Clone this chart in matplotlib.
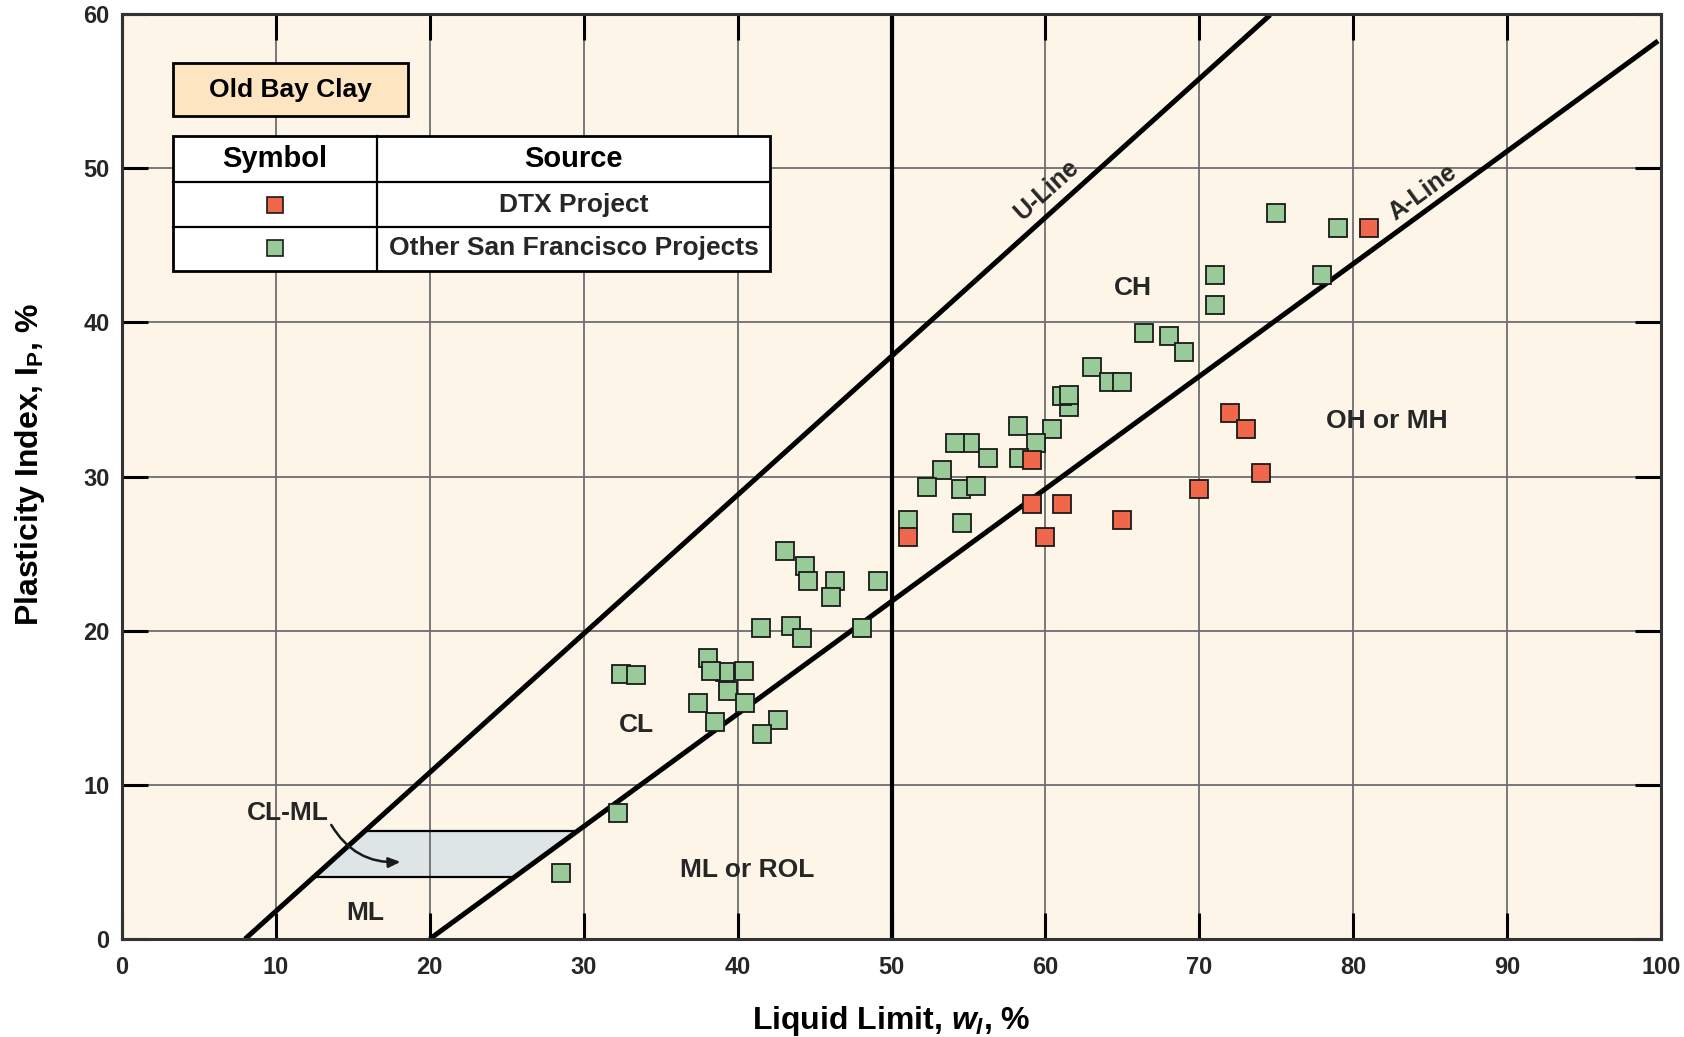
"""Plasticity chart for Old Bay Clay, DTX vs other San Francisco projects."""

import numpy as np
import matplotlib
matplotlib.use("Agg")
import matplotlib.pyplot as plt
from matplotlib.patches import Rectangle, Polygon

plt.rcParams['font.family'] = ['Liberation Sans', 'DejaVu Sans']
plt.rcParams['font.weight'] = 'bold'
plt.rcParams['mathtext.fontset'] = 'custom'
plt.rcParams['mathtext.rm'] = 'Liberation Sans:bold'
plt.rcParams['mathtext.bf'] = 'Liberation Sans:bold'
plt.rcParams['mathtext.it'] = 'Liberation Sans:bold:italic'

# other San Francisco projects (green)
other_ll = [61.5, 75.0, 79.0, 78.0, 71.0, 71.0, 66.4, 68.0, 69.0, 63.0, 64.1, 65.0,
            61.1, 61.5, 58.2, 60.4, 59.4, 55.1, 54.1, 58.3, 56.3, 53.3, 52.3,
            54.5, 55.5, 54.6, 51.1, 43.1, 44.4, 44.6, 46.3, 46.1, 49.1, 41.5,
            43.5, 44.2, 48.1, 38.1, 39.2, 38.3, 40.4, 39.4, 37.4, 40.5, 32.4,
            33.4, 38.5, 42.6, 41.6, 32.2, 28.5]
other_pi = [34.5, 47.1, 46.1, 43.1, 43.1, 41.1, 39.3, 39.1, 38.1, 37.1, 36.1, 36.1,
            35.2, 35.3, 33.3, 33.1, 32.2, 32.2, 32.2, 31.2, 31.2, 30.4, 29.3,
            29.2, 29.4, 27.0, 27.2, 25.2, 24.2, 23.2, 23.2, 22.2, 23.2, 20.2,
            20.3, 19.5, 20.2, 18.2, 17.3, 17.4, 17.4, 16.1, 15.3, 15.3, 17.2,
            17.1, 14.1, 14.2, 13.3, 8.2, 4.3]

# DTX project (red)
dtx_ll = [81.0, 72.0, 73.0, 74.0, 70.0, 65.0, 59.1, 61.1, 60.0, 59.1, 51.1]
dtx_pi = [46.1, 34.1, 33.1, 30.2, 29.2, 27.2, 28.2, 28.2, 26.1, 31.1, 26.1]

x_ticks = [0, 10, 20, 30, 40, 50, 60, 70, 80, 90, 100]
y_ticks = [0, 10, 20, 30, 40, 50, 60]

zone_labels = ["CH", "CL", "ML or ROL", "OH or MH", "ML"]
zone_xy = [(65.7, 42.2), (33.4, 13.9), (40.6, 4.5), (82.2, 33.6), (15.8, 1.7)]

GREEN = "#99cb99"
RED = "#f0674b"
TXT = "#262626"

fig = plt.figure(figsize=(16.84, 10.37), dpi=100)
ax = fig.add_axes([0.0724, 0.0945, 0.914, 0.892])
ax.set_facecolor("#fcf5e8")
ax.set_xlim(0, 100)
ax.set_ylim(0, 60)

ax.set_axisbelow(True)
ax.grid(True, color="#6e6e6e", lw=1.3)
ax.set_xticks(x_ticks)
ax.set_yticks(y_ticks)
ax.tick_params(direction="in", length=19, width=2.2, color="black",
               top=True, right=True, labelsize=17, labelcolor=TXT)
ax.tick_params(axis="x", pad=12)
ax.tick_params(axis="y", pad=9)
for sp in ax.spines.values():
    sp.set_linewidth(2.2)
    sp.set_color("#333333")

# vertical LL = 50 divider
ax.axvline(50, color="black", lw=3, zorder=1.5)

# U-line and A-line
u_x = np.array([8, 74.6])
ax.plot(u_x, 0.9 * (u_x - 8), color="black", lw=3.6, zorder=2, solid_capstyle="butt")
a_x = np.array([20, 99.8])
ax.plot(a_x, 0.73 * (a_x - 20), color="black", lw=3.6, zorder=2, solid_capstyle="butt")

# CL-ML band between PI 4 and 7
pi_lo, pi_hi = 4, 7
band = [(pi_lo / 0.9 + 8, pi_lo), (pi_hi / 0.9 + 8, pi_hi),
        (pi_hi / 0.73 + 20, pi_hi), (pi_lo / 0.73 + 20, pi_lo)]
ax.add_patch(Polygon(band, closed=True, facecolor="#dde5e6", edgecolor="none", zorder=0.4))
ax.plot([band[0][0], band[3][0]], [pi_lo, pi_lo], color="black", lw=1.6, zorder=1.8)
ax.plot([band[1][0], band[2][0]], [pi_hi, pi_hi], color="black", lw=1.6, zorder=1.8)

ax.text(60.1, 48.6, "U-Line", rotation=42, fontsize=18, color=TXT,
        ha="center", va="center", rotation_mode="anchor")
ax.text(84.5, 48.4, "A-Line", rotation=36, fontsize=18, color=TXT,
        ha="center", va="center", rotation_mode="anchor")

for lab, (lx, ly) in zip(zone_labels, zone_xy):
    ax.text(lx, ly, lab, fontsize=19, color=TXT, ha="center", va="center")

ax.text(10.8, 8.2, "CL-ML", fontsize=19, color=TXT, ha="center", va="center")
ax.annotate("", xy=(18.1, 5.0), xytext=(13.6, 7.4),
            arrowprops=dict(arrowstyle="-|>,head_length=0.7,head_width=0.3",
                            color="#1a1a1a", lw=1.8,
                            connectionstyle="arc3,rad=0.3",
                            shrinkA=0, shrinkB=0))

ax.plot(other_ll, other_pi, ls="none", marker="s", ms=13.5, mfc=GREEN,
        mec="#1a1a1a", mew=1.3, zorder=3)
ax.plot(dtx_ll, dtx_pi, ls="none", marker="s", ms=13.5, mfc=RED,
        mec="#1a1a1a", mew=1.3, zorder=3.5)

# title box
ax.add_patch(Rectangle((3.3, 53.4), 15.3, 3.4, facecolor="#fde5c1",
                       edgecolor="black", lw=2, zorder=5))
ax.text(10.95, 55.1, "Old Bay Clay", fontsize=19, color="black",
        ha="center", va="center", zorder=6)

# symbol table
tx0, tx1, tx2 = 3.3, 16.6, 42.1
ty = [52.1, 49.1, 46.2, 43.3]
ax.add_patch(Rectangle((tx0, ty[3]), tx2 - tx0, ty[0] - ty[3], facecolor="white",
                       edgecolor="black", lw=2, zorder=5))
ax.plot([tx1, tx1], [ty[3], ty[0]], color="black", lw=1.6, zorder=6)
for yy in ty[1:3]:
    ax.plot([tx0, tx2], [yy, yy], color="black", lw=1.6, zorder=6)
ax.text((tx0 + tx1) / 2, 50.6, "Symbol", fontsize=21, color="black",
        ha="center", va="center", zorder=7)
ax.text((tx1 + tx2) / 2, 50.6, "Source", fontsize=21, color="black",
        ha="center", va="center", zorder=7)
ax.text((tx1 + tx2) / 2, 47.6, "DTX Project", fontsize=19, color=TXT,
        ha="center", va="center", zorder=7)
ax.text((tx1 + tx2) / 2, 44.8, "Other San Francisco Projects", fontsize=19, color=TXT,
        ha="center", va="center", zorder=7)
ax.plot([(tx0 + tx1) / 2], [47.6], marker="s", ms=11.5, mfc=RED,
        mec="#1a1a1a", mew=1.2, zorder=7)
ax.plot([(tx0 + tx1) / 2], [44.8], marker="s", ms=11.5, mfc=GREEN,
        mec="#1a1a1a", mew=1.2, zorder=7)

ax.set_xlabel(r"Liquid Limit, $w_l$, %", fontsize=23, fontweight="bold",
              color="black", labelpad=18)
ax.set_ylabel(r"Plasticity Index, I$_\mathrm{P}$, %", fontsize=23, fontweight="bold",
              color="black", labelpad=26)
ax.yaxis.label.set_y(0.513)

fig.savefig("out.png", dpi=100)
